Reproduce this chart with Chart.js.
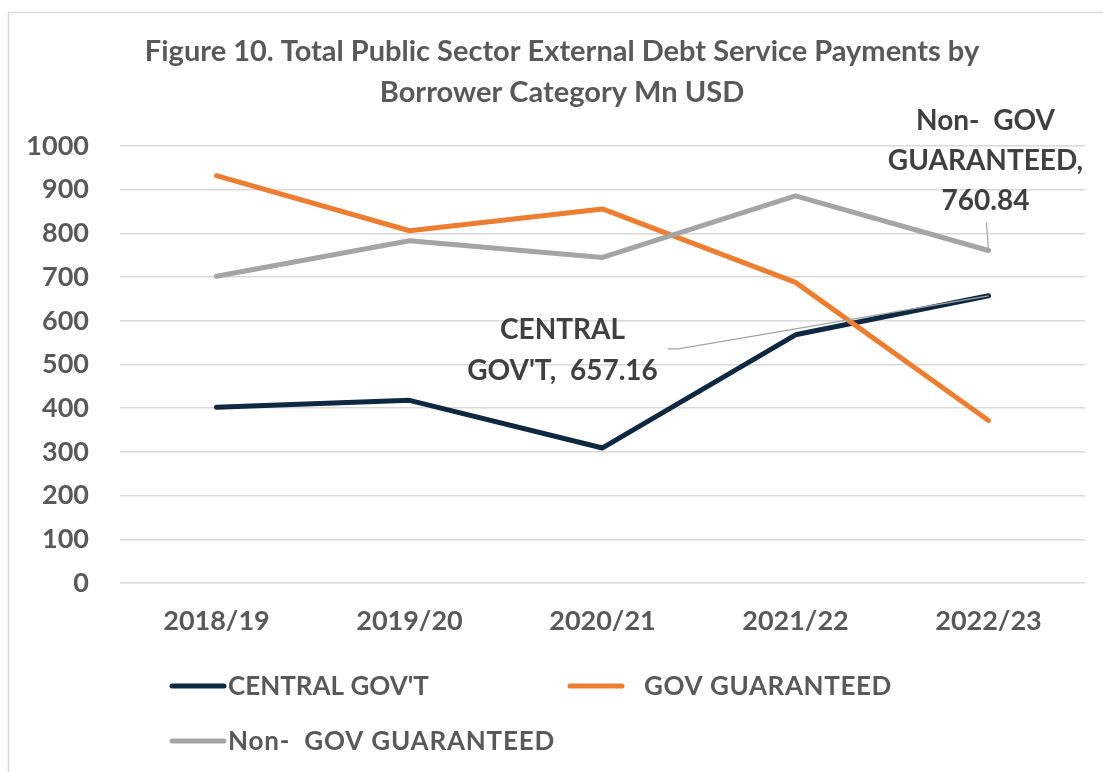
<!DOCTYPE html>
<html>
<head>
<meta charset="utf-8">
<script src="https://cdn.jsdelivr.net/npm/chart.js@4.4.1/dist/chart.umd.min.js"></script>
<style>
  html, body { margin: 0; padding: 0; background: #ffffff; }
  #wrap { width: 1103px; height: 772px; position: relative; }
</style>
</head>
<body>
<div id="wrap"><canvas id="chart" width="1103" height="772"></canvas></div>
<script>
// Fiscal years on the category axis
const categories = ['2018/19', '2019/20', '2020/21', '2021/22', '2022/23'];

// Debt service payments, Mn USD
const centralGov = [402, 418, 309, 568, 657.16];
const govGuaranteed = [932, 806, 856, 688, 372];
const nonGovGuaranteed = [702, 783, 745, 886, 760.84];

const seriesNames = ["CENTRAL GOV'T", 'GOV GUARANTEED', 'Non-  GOV GUARANTEED'];
const seriesColors = ['#0E2841', '#ED7D31', '#A5A5A5'];

const titleLines = ['Figure 10. Total Public Sector External Debt Service Payments by', 'Borrower Category Mn USD'];

const yMin = 0, yMax = 1000, yStep = 100;

const FONT = 'Lato, "Open Sans", sans-serif';
const TEXT_GREY = '#595959';
const LABEL_DARK = '#404040';

// Outer frame and two-line heading
const framePlugin = {
  id: 'frame',
  beforeDraw(chart) {
    const ctx = chart.ctx;
    ctx.save();
    ctx.fillStyle = '#ffffff';
    ctx.fillRect(0, 0, chart.width, chart.height);
    ctx.strokeStyle = '#D9D9D9';
    ctx.lineWidth = 1.5;
    ctx.strokeRect(8.5, 12.5, chart.width + 20, chart.height + 20);
    ctx.restore();
  },
  afterDraw(chart) {
    const ctx = chart.ctx;
    ctx.save();
    ctx.fillStyle = TEXT_GREY;
    ctx.font = 'bold 29px ' + FONT;
    ctx.textAlign = 'center';
    ctx.textBaseline = 'alphabetic';
    ctx.fillText(titleLines[0], 562, 61);
    ctx.fillText(titleLines[1], 562, 102);
    ctx.restore();
  }
};

// Legend laid out in two rows beneath the category axis
const legendPlugin = {
  id: 'rowLegend',
  afterDraw(chart) {
    const ctx = chart.ctx;
    const items = [
      { ds: 0, x: 172, y: 686 },
      { ds: 1, x: 570, y: 686, gap: 18, spacing: '0.6px' },
      { ds: 2, x: 172, y: 741, spacing: '0.8px' }
    ];
    ctx.save();
    ctx.font = 'bold 26px ' + FONT;
    ctx.textBaseline = 'middle';
    ctx.textAlign = 'left';
    items.forEach(it => {
      const ds = chart.data.datasets[it.ds];
      ctx.strokeStyle = ds.borderColor;
      ctx.lineWidth = 5;
      ctx.lineCap = 'round';
      ctx.beginPath();
      ctx.moveTo(it.x, it.y);
      ctx.lineTo(it.x + 52, it.y);
      ctx.stroke();
      ctx.fillStyle = TEXT_GREY;
      ctx.letterSpacing = it.spacing || '0px';
      ctx.fillText(ds.label, it.x + 56 + (it.gap || 0), it.y + 1);
    });
    ctx.restore();
  }
};

// Callout labels on the last point of two series, with leader lines
const calloutPlugin = {
  id: 'callouts',
  afterDatasetsDraw(chart) {
    const ctx = chart.ctx;
    const last = categories.length - 1;
    const pNon = chart.getDatasetMeta(2).data[last];
    const pCen = chart.getDatasetMeta(0).data[last];
    ctx.save();
    // leader lines
    ctx.strokeStyle = '#A5A5A5';
    ctx.lineWidth = 1.2;
    ctx.beginPath();
    ctx.moveTo(pNon.x, pNon.y);
    ctx.lineTo(pNon.x - 2, pNon.y - 28);
    ctx.stroke();
    ctx.beginPath();
    ctx.moveTo(pCen.x, pCen.y);
    ctx.lineTo(pCen.x - 310, pCen.y + 53);
    ctx.lineTo(pCen.x - 321, pCen.y + 53);
    ctx.stroke();

    ctx.fillStyle = LABEL_DARK;
    ctx.font = 'bold 28px ' + FONT;
    ctx.textAlign = 'center';
    ctx.textBaseline = 'alphabetic';
    const nonVal = nonGovGuaranteed[last].toFixed(2);
    const cx1 = pNon.x - 3;
    ctx.fillText('Non-  GOV', cx1, pNon.y - 121);
    ctx.fillText('GUARANTEED,', cx1, pNon.y - 81);
    ctx.fillText(nonVal, cx1, pNon.y - 41);

    const cenVal = centralGov[last].toFixed(2);
    const cx2 = pCen.x - 426;
    ctx.fillText('CENTRAL', cx2, pCen.y + 43);
    ctx.fillText("GOV'T,  " + cenVal, cx2, pCen.y + 84);
    ctx.restore();
  }
};

const mkSet = (i, data, order) => ({
  label: seriesNames[i],
  data: data,
  borderColor: seriesColors[i],
  backgroundColor: seriesColors[i],
  borderWidth: 5,
  pointRadius: 0,
  pointHoverRadius: 0,
  tension: 0,
  borderCapStyle: 'round',
  borderJoinStyle: 'round',
  fill: false,
  order: order
});

new Chart(document.getElementById('chart'), {
  type: 'line',
  data: {
    labels: categories,
    datasets: [
      mkSet(0, centralGov, 3),
      mkSet(1, govGuaranteed, 2),
      mkSet(2, nonGovGuaranteed, 1)
    ]
  },
  options: {
    responsive: false,
    animation: false,
    devicePixelRatio: 1,
    layout: { padding: { top: 146, right: 18, bottom: 0, left: 0 } },
    plugins: {
      legend: { display: false },
      title: { display: false },
      tooltip: { enabled: false }
    },
    scales: {
      x: {
        offset: true,
        grid: { display: false, drawTicks: false },
        border: { display: false },
        ticks: {
          color: TEXT_GREY,
          font: { family: FONT, size: 27, weight: 'bold' },
          padding: 22,
          maxRotation: 0
        },
        afterFit(scale) { scale.height = 189; }
      },
      y: {
        min: yMin,
        max: yMax,
        grid: { color: '#D9D9D9', lineWidth: 1.5, drawTicks: false },
        border: { display: false },
        ticks: {
          stepSize: yStep,
          color: TEXT_GREY,
          font: { family: FONT, size: 27, weight: 'bold' },
          padding: 31,
          callback: (v) => String(v)
        },
        afterFit(scale) { scale.width = 120; }
      }
    }
  },
  plugins: [framePlugin, calloutPlugin, legendPlugin]
});
</script>
</body>
</html>
